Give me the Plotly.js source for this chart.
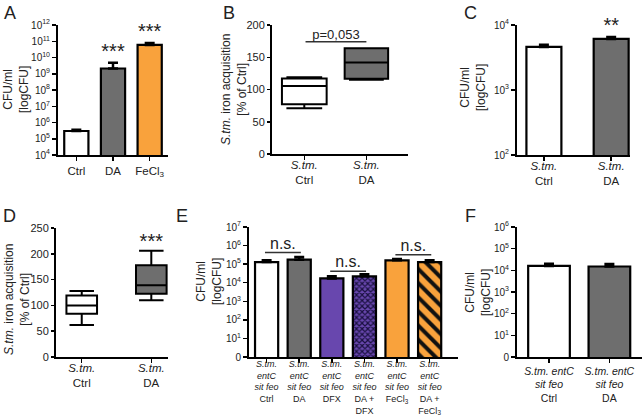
<!DOCTYPE html>
<html><head><meta charset="utf-8">
<script src="https://cdn.plot.ly/plotly-3.0.1.min.js"></script>
<style>html,body{margin:0;padding:0;background:#fff}#plot{width:643px;height:419px}</style>
</head><body><div id="plot"></div>
<script>
// ---- data ----
const catsA = ['Ctrl', 'DA', 'FeCl<sub>3</sub>'];
const valsA = [3.0e5, 2.1e9, 5.9e10];
const errA  = [0.6e5, 2.7e9, 1.9e10];
const starsA = ['', '***', '***'];

const catsB = ['<i>S.tm.</i><br>Ctrl', '<i>S.tm.</i><br>DA'];
const q1B = [77, 116.5], medB = [105.5, 142], q3B = [117, 164], loB = [71, 115], hiB = [119, 164];
const pTextB = 'p=0,053';
const pLineB = 174;

const catsC = ['<i>S.tm.</i><br>Ctrl', '<i>S.tm.</i><br>DA'];
const valsC = [4600, 6100];
const errC  = [350, 450];
const starsC = ['', '**'];

const catsD = ['<i>S.tm.</i><br>Ctrl', '<i>S.tm.</i><br>DA'];
const q1D = [84, 122.5], medD = [100, 139], q3D = [119, 178], loD = [62, 110], hiD = [128, 206];
const starsD = ['', '***'];
const starYD = 221;

const catsE = ['<i>S.tm.<br>entC<br>sit feo</i><br>Ctrl', '<i>S.tm.<br>entC<br>sit feo</i><br>DA',
  '<i>S.tm.<br>entC<br>sit feo</i><br>DFX', '<i>S.tm.<br>entC<br>sit feo</i><br>DA +<br>DFX',
  '<i>S.tm.<br>entC<br>sit feo</i><br>FeCl<sub>3</sub>', '<i>S.tm.<br>entC<br>sit feo</i><br>DA +<br>FeCl<sub>3</sub>'];
const valsE = [1.3e5, 1.75e5, 1.7e4, 2.2e4, 1.6e5, 1.3e5];
const errE  = [0.3e5, 0.65e5, 0.5e4, 0.7e4, 0.3e5, 0.3e5];
const nsPairsE = [[0, 1], [2, 3], [4, 5]];
const nsLevelsE = [4.2e5, 4.1e4, 3.2e5];

const catsF = ['<i>S.tm. entC<br>sit feo</i><br>Ctrl', '<i>S.tm. entC<br>sit feo</i><br>DA'];
const valsF = [1.6e4, 1.5e4];
const errF  = [0.4e4, 0.45e4];

const logTicksA = [4,5,6,7,8,9,10,11,12];
const logTicksC = [2,3,4];
const logTicksE = [0,1,2,3,4,5,6,7];
const logTicksF = [0,1,2,3,4,5,6];

// ---- styles ----
const W = 643, H = 419;
const FONT = 'Liberation Sans, Arial, sans-serif';
const GRAY = '#6e6e6e', ORANGE = '#F9A23C', PURPLE = '#6847AE';
const xd = (a, b) => [a / W, b / W];
const yd = (t, b) => [1 - b / H, 1 - t / H];
const idx = a => a.map((_, i) => i);

function xAxis(dom, cats, range, anchor, size, standoff) {
  return {domain: dom, range: range, anchor: anchor, tickvals: idx(cats), ticktext: cats,
    showline: true, linecolor: '#000', linewidth: 2, ticks: 'outside', ticklen: 4, tickwidth: 1.5,
    tickcolor: '#000', showgrid: false, zeroline: false, fixedrange: true,
    ticklabelstandoff: standoff || 0,
    tickfont: {family: FONT, size: size || 11.5, color: '#222'}};
}
function yLog(dom, ticks, anchor, zeroLabel) {
  return {domain: dom, type: 'log', range: [ticks[0], ticks[ticks.length - 1]], anchor: anchor,
    tickvals: ticks.map(e => Math.pow(10, e)),
    ticktext: ticks.map(e => zeroLabel && e === 0 ? '0' : '10<sup>' + e + '</sup>'),
    showline: true, linecolor: '#000', linewidth: 2, ticks: 'outside', ticklen: 4, tickwidth: 1.5,
    tickcolor: '#000', showgrid: false, zeroline: false, fixedrange: true,
    tickfont: {family: FONT, size: 10, color: '#222'}};
}
function yLin(dom, range, dtick, anchor) {
  return {domain: dom, range: range, dtick: dtick, anchor: anchor,
    showline: true, linecolor: '#000', linewidth: 2, ticks: 'outside', ticklen: 3, tickwidth: 1.5,
    tickcolor: '#000', showgrid: false, zeroline: false, fixedrange: true,
    tickfont: {family: FONT, size: 11, color: '#222'}};
}
function bars(xs, vals, errs, colors, xa, ya, width, pattern) {
  const m = {color: colors, line: {color: '#000', width: 2.2}};
  if (pattern) m.pattern = pattern;
  return {type: 'bar', x: xs, y: vals, width: width, xaxis: xa, yaxis: ya,
    marker: m, hoverinfo: 'skip',
    error_y: {type: 'data', array: errs, arrayminus: vals.map(() => 0), symmetric: false,
      color: '#000', thickness: 2.5, width: 5}};
}
function box(i, q1, med, q3, lo, hi, fill, xa, ya, w) {
  return {type: 'box', x: [i], q1: [q1[i]], median: [med[i]], q3: [q3[i]],
    lowerfence: [lo[i]], upperfence: [hi[i]], width: w, whiskerwidth: 0.8,
    fillcolor: fill, line: {color: '#000', width: 2}, boxpoints: false,
    xaxis: xa, yaxis: ya, hoverinfo: 'skip'};
}
function label(xs, ys, texts, xa, ya, size, pos) {
  return {type: 'scatter', mode: 'text', x: xs, y: ys, text: texts, xaxis: xa, yaxis: ya,
    textposition: pos || 'top center', cliponaxis: false, hoverinfo: 'skip',
    textfont: {family: FONT, size: size, color: '#222'}};
}
function hline(x0, x1, y, xa, ya) {
  return {type: 'scatter', mode: 'lines', x: [x0, x1], y: [y, y], xaxis: xa, yaxis: ya,
    line: {color: '#333', width: 1.5}, cliponaxis: false, hoverinfo: 'skip'};
}

const traces = [];
// A
traces.push(bars(idx(valsA), valsA, errA, ['#fff', GRAY, ORANGE], 'x', 'y', 0.66));
traces.push(label(idx(valsA), valsA.map((v, i) => v + errA[i]), starsA, 'x', 'y', 20));
// B
traces.push(box(0, q1B, medB, q3B, loB, hiB, '#fff', 'x2', 'y2', 0.72));
traces.push(box(1, q1B, medB, q3B, loB, hiB, GRAY, 'x2', 'y2', 0.70));
traces.push(hline(0.02, 1.0, pLineB, 'x2', 'y2'));
traces.push(label([0.51], [pLineB], [pTextB], 'x2', 'y2', 13));
// C
traces.push(bars(idx(valsC), valsC, errC, ['#fff', GRAY], 'x3', 'y3', 0.52));
traces.push(label(idx(valsC), valsC.map((v, i) => v + errC[i]), starsC, 'x3', 'y3', 20));
// D
traces.push(box(0, q1D, medD, q3D, loD, hiD, '#fff', 'x4', 'y4', 0.44));
traces.push(box(1, q1D, medD, q3D, loD, hiD, GRAY, 'x4', 'y4', 0.44));
traces.push(label([1], [starYD], [starsD[1]], 'x4', 'y4', 20, 'middle center'));
// E
const colorsE = ['#fff', GRAY, PURPLE, PURPLE, ORANGE, ORANGE];
const patternsE = [null, null, null,
  {shape: 'x', bgcolor: PURPLE, fgcolor: '#1a1040', size: 4, solidity: 0.5, fillmode: 'replace'},
  null,
  {shape: '\\', bgcolor: ORANGE, fgcolor: '#111', size: 10, solidity: 0.4, fillmode: 'replace'}];
valsE.forEach((v, i) => {
  traces.push(bars([i], [v], [errE[i]], colorsE[i], 'x5', 'y5', 0.71, patternsE[i]));
});
nsPairsE.forEach((p, k) => {
  traces.push(hline(p[0] - 0.05, p[1] + 0.05, nsLevelsE[k], 'x5', 'y5'));
  traces.push(label([(p[0] + p[1]) / 2], [nsLevelsE[k]], ['n.s.'], 'x5', 'y5', 16));
});
// F
traces.push(bars(idx(valsF), valsF, errF, ['#fff', GRAY], 'x6', 'y6', 0.69));

const annotations = [];
function ann(x, y, text, size, angle) {
  annotations.push({xref: 'paper', yref: 'paper', x: x / W, y: 1 - y / H, text: text,
    showarrow: false, textangle: angle || 0, xanchor: 'center', yanchor: 'middle',
    font: {family: FONT, size: size, color: '#222'}});
}
ann(10, 13, 'A', 18); ann(229, 13, 'B', 18); ann(471, 13, 'C', 18);
ann(9, 216, 'D', 18); ann(182, 216, 'E', 18); ann(470, 216, 'F', 18);
ann(16, 90, 'CFU/ml<br>[logCFU]', 12, -90);
ann(234, 90, '<i>S.tm.</i> iron acquisition<br>[% of Ctrl]', 12, -90);
ann(473, 88, 'CFU/ml<br>[logCFU]', 12, -90);
ann(17, 300, '<i>S.tm.</i> iron acquisition<br>[% of Ctrl]', 12, -90);
ann(209, 282, 'CFU/ml<br>[logCFU]', 12, -90);
ann(478, 293, 'CFU/ml<br>[logCFU]', 12, -90);

const layout = {
  width: W, height: H, margin: {l: 0, r: 0, t: 0, b: 0}, showlegend: false,
  paper_bgcolor: '#fff', plot_bgcolor: '#fff', font: {family: FONT},
  boxmode: 'overlay', barmode: 'overlay',
  xaxis:  xAxis(xd(58, 168), catsA, [-0.5, 2.5], 'y'),
  yaxis:  yLog(yd(25, 155), logTicksA, 'x'),
  xaxis2: xAxis(xd(272, 408), catsB, [-0.52, 1.67], 'y2', 11.5, -5),
  yaxis2: yLin(yd(25, 154), [0, 200], 50, 'x2'),
  xaxis3: xAxis(xd(517, 630), catsC, [-0.4, 1.28], 'y3', 11.5, -5),
  yaxis3: yLog(yd(25, 155), logTicksC, 'x3'),
  xaxis4: xAxis(xd(56, 168), catsD, [-0.37, 1.24], 'y4', 11.5, -5),
  yaxis4: yLin(yd(228, 357), [0, 250], 50, 'x4'),
  xaxis5: xAxis(xd(249, 458), catsE, [-0.54, 5.87], 'y5', 9, -7),
  yaxis5: yLog(yd(227, 357), logTicksE, 'x5', true),
  xaxis6: xAxis(xd(517, 642), catsF, [-0.53, 1.54], 'y6', 10.5, -1),
  yaxis6: yLog(yd(227, 357), logTicksF, 'x6', true),
  annotations: annotations
};
Plotly.newPlot('plot', traces, layout, {staticPlot: true, displayModeBar: false});
</script></body></html>
